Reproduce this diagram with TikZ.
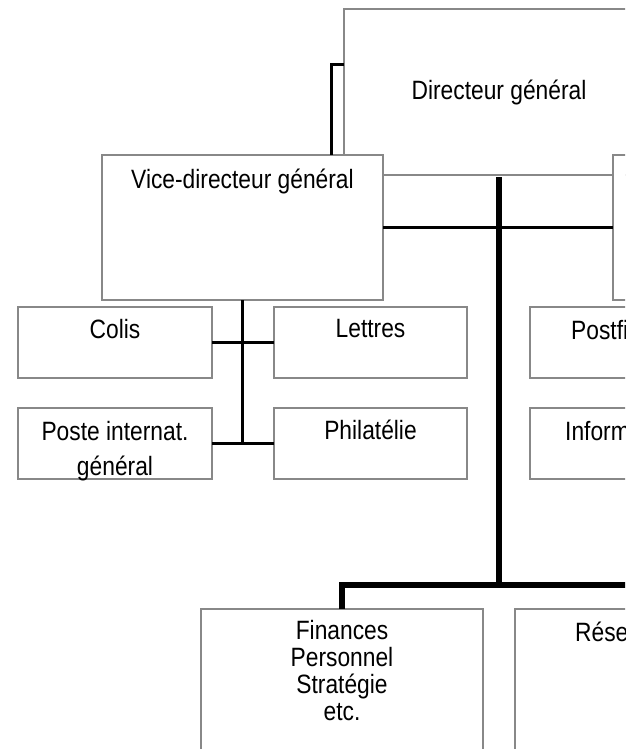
\documentclass[tikz,border=0pt]{standalone}
\usepackage{fontspec}
\setmainfont{Liberation Sans}[FakeStretch=0.86]
\usepackage{tikz}
\usepackage{color}

\definecolor{boxgray}{HTML}{888888}
\newcommand{\orgfont}{\fontsize{26.5pt}{27pt}\selectfont}

\tikzset{
  box/.style={draw=boxgray, line width=2.5pt, fill=white, inner sep=0pt, outer sep=0pt, anchor=north west, font=\orgfont},
  txt/.style={inner sep=0pt, align=center, anchor=north, font=\orgfont},
  cut/.style={inner sep=0pt, anchor=base west, font=\orgfont},
  link/.style={line width=3pt},
  trunk/.style={line width=5.5pt},
}

\begin{document}
\begin{tikzpicture}[x=1pt, y=-1pt]
\useasboundingbox (0,0) rectangle (640,749);
\clip (0,0) rectangle (625,748.5);

% Drawing top boxes
\node[box, minimum width=310pt, minimum height=166pt] (dg) at (344,9) {Directeur général};
\node[box, minimum width=281pt, minimum height=145pt] (vdg) at (102,155) {};
\node[box, minimum width=283pt, minimum height=145pt] (drt) at (613,155) {};
\node[txt] (vdg-t) at ([yshift=-14pt]vdg.north) {Vice-directeur général};

% Drawing departments
\node[box, minimum width=194pt, minimum height=71pt] (colis) at (18,307) {};
\node[box, minimum width=193pt, minimum height=71pt] (lettres) at (274,307) {};
\node[box, minimum width=193pt, minimum height=71pt] (postfi) at (530,307) {};
\node[box, minimum width=194pt, minimum height=71pt] (poste) at (18,408) {};
\node[box, minimum width=193pt, minimum height=71pt] (phila) at (274,408) {};
\node[box, minimum width=193pt, minimum height=71pt] (inform) at (530,408) {};
\node[txt] (colis-t) at ([yshift=-12pt]colis.north) {Colis};
\node[txt] (lettres-t) at ([yshift=-12pt]lettres.north) {Lettres};
\node[txt] (poste-t) at ([yshift=-13pt]poste.north) {Poste internat.\\[8pt]général};
\node[txt] (phila-t) at ([yshift=-12pt]phila.north) {Philatélie};
\node[cut] (postfi-t) at ([xshift=41pt, yshift=-32pt]postfi.north west) {Postfi};
\node[cut] (inform-t) at ([xshift=35pt, yshift=-32pt]inform.north west) {Inform};

% Drawing staff boxes
\node[box, minimum width=282pt, minimum height=200pt] (fin) at (201,609) {};
\node[box, minimum width=282pt, minimum height=200pt] (res) at (515,609) {};
\node[txt] (fin-t) at ([yshift=-11pt]fin.north) {Finances\\Personnel\\Stratégie\\etc.};
\node[cut] (res-t) at ([xshift=60pt, yshift=-32pt]res.north west) {Rése};

% Drawing connectors
\coordinate (bend) at (331,65);
\coordinate (hub) at (700,585);
\draw[link] (dg.west |- bend) -- (bend) -- (bend |- vdg.north);
\draw[link] (vdg.east) -- (drt.west);
\draw[link] (vdg.south) -- (vdg.south |- poste.east);
\draw[link] (colis.east) -- (lettres.west);
\draw[link] (poste.east) -- (phila.west);
\draw[trunk] ([yshift=-2pt]dg.south) -- (dg.south |- hub);
\draw[trunk] (fin.north) |- (hub);
\end{tikzpicture}
\end{document}
